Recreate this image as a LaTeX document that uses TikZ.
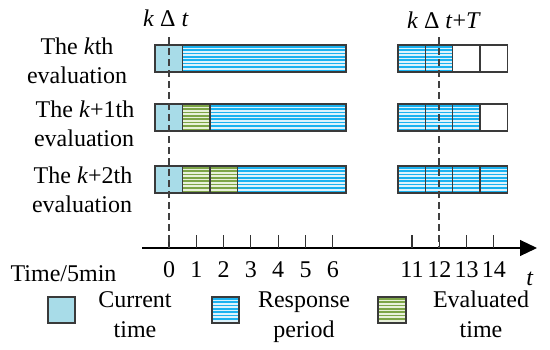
\documentclass[tikz,border=0pt]{standalone}
\usepackage{fontspec}
\setmainfont{Liberation Serif}
\usetikzlibrary{arrows.meta}
\definecolor{curcol}{HTML}{A8DCE8}
\definecolor{bluestripe}{HTML}{1AB2F0}
\definecolor{bluebg}{HTML}{DDF3FC}
\definecolor{greenstripe}{HTML}{7DA547}
\definecolor{greenbg}{HTML}{E8F1DA}
\definecolor{edgecol}{HTML}{3A3A3A}
\newcommand{\stripecell}[6]{%
  \fill[#5] (#1,#2) rectangle (#3,#4);
  \foreach \kk in {0,...,7}
    \draw[#6, line width=1.5pt] (#1,#2+1.8+\kk*3.35) -- (#3,#2+1.8+\kk*3.35);
}
\newcommand{\curcell}[4]{\fill[curcol] (#1,#2) rectangle (#3,#4);}
\tikzset{
  lbl/.style={font=\fontsize{24}{29}\selectfont, inner sep=0pt, anchor=base},
  cellbox/.style={draw=edgecol, line width=1.2pt},
  guide/.style={draw=black!75, line width=1.3pt, dash pattern=on 7pt off 4pt},
  tick/.style={draw=black!80, line width=1.1pt},
}
\begin{document}
\begin{tikzpicture}[x=1pt,y=-1pt]
\useasboundingbox (0,0) rectangle (550,349);
\def\u{27.3}
% ---------- row 1 ----------
\curcell{155}{45}{182.6}{72}
\stripecell{182.6}{45}{346}{72}{bluebg}{bluestripe}
\draw[cellbox] (155,45) rectangle (182.6,72) (182.6,45) rectangle (346,72);
\stripecell{398}{45}{452.6}{72}{bluebg}{bluestripe}
\draw[cellbox] (398,45) rectangle (425.3,72) (425.3,45) rectangle (452.6,72)
  (452.6,45) rectangle (479.9,72) (479.9,45) rectangle (507.2,72);
% ---------- row 2 ----------
\curcell{155}{104}{182.6}{131}
\stripecell{182.6}{104}{209.9}{131}{greenbg}{greenstripe}
\stripecell{209.9}{104}{346}{131}{bluebg}{bluestripe}
\draw[cellbox] (155,104) rectangle (182.6,131) (182.6,104) rectangle (209.9,131)
  (209.9,104) rectangle (346,131);
\stripecell{398}{104}{479.9}{131}{bluebg}{bluestripe}
\draw[cellbox] (398,104) rectangle (425.3,131) (425.3,104) rectangle (452.6,131)
  (452.6,104) rectangle (479.9,131) (479.9,104) rectangle (507.2,131);
% ---------- row 3 ----------
\curcell{155}{166}{182.6}{193}
\stripecell{182.6}{166}{237.2}{193}{greenbg}{greenstripe}
\stripecell{237.2}{166}{346}{193}{bluebg}{bluestripe}
\draw[cellbox] (155,166) rectangle (182.6,193) (182.6,166) rectangle (209.9,193)
  (209.9,166) rectangle (237.2,193) (237.2,166) rectangle (346,193);
\stripecell{398}{166}{507.2}{193}{bluebg}{bluestripe}
\draw[cellbox] (398,166) rectangle (425.3,193) (425.3,166) rectangle (452.6,193)
  (452.6,166) rectangle (479.9,193) (479.9,166) rectangle (507.2,193);
% ---------- axis ----------
\coordinate (axL) at (142,248);
\coordinate (axR) at (537,248);
\draw[line width=1.2pt, -{Triangle[length=17pt,width=16pt]}] (axL) -- (axR);
\foreach \i in {0,...,6} {
  \draw[tick] (169+\i*\u,235) -- (169+\i*\u,248);
  \node[lbl] at (169+\i*\u,277) {\i};
}
\foreach \i in {11,...,14} {
  \draw[tick] (412+\i*\u-11*\u,235) -- (412+\i*\u-11*\u,248);
  \node[lbl] at (412+\i*\u-11*\u,277) {\i};
}
\node[lbl] (tlab) at (530,285) {\textit{t}};
\node[lbl] (unit) at (63.5,281) {Time/5min};
% ---------- guide lines ----------
\coordinate (g0top) at (169,37);
\coordinate (g0bot) at (169,248);
\coordinate (g1top) at (439,37);
\coordinate (g1bot) at (439,248);
\draw[guide] (g0top) -- (g0bot);
\draw[guide] (g1top) -- (g1bot);
\node[lbl] (kdt) at (166,26) {\textit{k} Δ \textit{t}};
\node[lbl] (kdtT) at (444,28) {\textit{k} Δ \textit{t}+\textit{T}};
% ---------- row labels ----------
\node[lbl] (r1a) at (77,54) {The \textit{k}th};
\node[lbl] (r1b) at (77,83) {evaluation};
\node[lbl] (r2a) at (85,117) {The \textit{k}+1th};
\node[lbl] (r2b) at (84,146) {evaluation};
\node[lbl] (r3a) at (83,183) {The \textit{k}+2th};
\node[lbl] (r3b) at (82,212) {evaluation};
% ---------- legend ----------
\fill[curcol] (48,297) rectangle (75,323);
\draw[cellbox] (48,297) rectangle (75,323);
\node[lbl] (l1a) at (135,307) {Current};
\node[lbl] (l1b) at (135,337) {time};
\stripecell{212}{297}{239}{323}{bluebg}{bluestripe}
\draw[cellbox] (212,297) rectangle (239,323);
\node[lbl] (l2a) at (304,307) {Response};
\node[lbl] (l2b) at (304,337) {period};
\stripecell{378}{297}{406}{323}{greenbg}{greenstripe}
\draw[cellbox] (378,297) rectangle (406,323);
\node[lbl] (l3a) at (481,307) {Evaluated};
\node[lbl] (l3b) at (481,337) {time};
\end{tikzpicture}
\end{document}
